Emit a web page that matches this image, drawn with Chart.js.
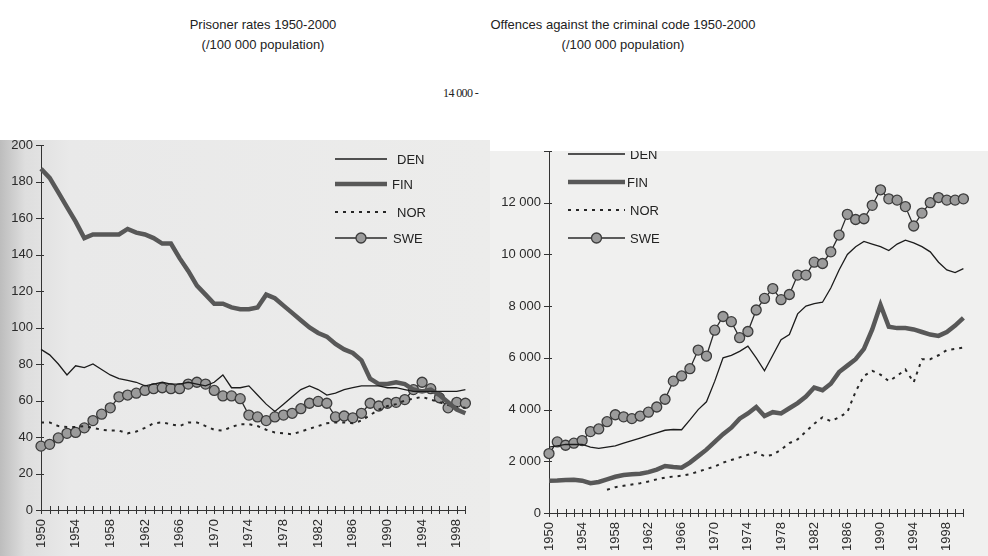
<!DOCTYPE html>
<html>
<head>
<meta charset="utf-8">
<script src="https://cdn.jsdelivr.net/npm/chart.js@4.4.1/dist/chart.umd.min.js"></script>
<style>
body{margin:0;width:988px;height:556px;overflow:hidden;background:#fff;position:relative;font-family:"Liberation Sans",Arial,sans-serif}
.title{position:absolute;text-align:center;font-size:13px;line-height:20px;color:#222}
#scanL{position:absolute;left:0;top:140px;width:490px;height:416px;overflow:hidden;background:linear-gradient(to right,#bdbdbd 0px,#dedede 25px,#e9e9e9 70px,#ececeb 100%)}
#scanR{position:absolute;left:490px;top:151px;width:498px;height:405px;overflow:hidden;background:#f0f0ef}
#stray{position:absolute;left:443px;top:86px;font-family:"Liberation Serif",serif;font-size:12px;letter-spacing:-0.6px;color:#222}
canvas{position:absolute;left:0}
</style>
</head>
<body>
<div class="title" style="left:163px;top:15px;width:200px">Prisoner rates 1950-2000<br>(/100 000 population)</div>
<div class="title" style="left:473px;top:15px;width:300px">Offences against the criminal code 1950-2000<br>(/100 000 population)</div>
<div id="stray">14 000 -</div>
<div id="scanL"><canvas id="c1" width="490" height="446" style="top:-30px"></canvas></div>
<div id="scanR"><canvas id="c2" width="498" height="446" style="top:-41px"></canvas></div>
<script>
// years on the x axis
const yearsL = [1950,1951,1952,1953,1954,1955,1956,1957,1958,1959,1960,1961,1962,1963,1964,1965,1966,1967,1968,1969,
  1970,1971,1972,1973,1974,1975,1976,1977,1978,1979,1980,1981,1982,1983,1984,1985,1986,1987,1988,1989,
  1990,1991,1992,1993,1994,1995,1996,1997,1998,1999];
const yearsR = yearsL.concat([2000]);

// prisoner rates per 100 000
const prisDEN = [88,85,80,74,79,78,80,77,74,72,71,70,68,69,70,69,69,70,69,68,
  70,74,67,67,68,63,58,54,58,62,66,68,66,63,64,66,67,68,68,68,
  67,67,66,65,65,65,65,65,65,66];
const prisFIN = [187,182,174,166,158,149,151,151,151,151,154,152,151,149,146,146,138,131,123,118,
  113,113,111,110,110,111,118,116,112,108,104,100,97,95,91,88,86,82,72,69,
  69,70,69,66,65,66,63,59,55,53];
const prisNOR = [48,48,46,45.5,45.5,46,45,44,43.5,43.5,42,43,45,47.5,48,47,46,48,48,46,
  44,43.5,45.5,47,47,46,44,42.5,42,41.5,43,44.5,46,47.5,48,48,47.5,49,52,55,
  57,58,60,61,62,60.5,59,57.5,56.5,56];
const prisSWE = [35,36,39.5,42,42.5,45,49,52.5,56,62,63,64,65.5,66.5,67,66.5,66.5,69,70,69,
  65.5,62.5,62.5,61,52,51,49,51,52,53,55.5,58.5,59.5,58.5,51,51.5,50.5,53,58.5,57,
  58.5,59,60.5,66,70,66.5,61.5,56,59,58.5];

// offences per 100 000
const offDEN = [2550,2600,2650,2650,2650,2550,2500,2550,2600,2700,2800,2900,3000,3100,3200,3230,3220,3600,4000,4300,
  5100,6000,6100,6250,6450,6000,5500,6100,6700,6900,7700,8000,8100,8150,8700,9400,10000,10300,10500,10400,
  10300,10150,10400,10550,10450,10300,10100,9700,9400,9300,9450];
const offFIN = [1250,1260,1280,1290,1250,1150,1200,1300,1400,1470,1500,1520,1580,1680,1820,1780,1750,1950,2200,2450,
  2750,3050,3300,3650,3850,4100,3750,3900,3850,4050,4250,4500,4850,4750,5000,5450,5700,5950,6350,7100,
  8050,7200,7150,7150,7100,7000,6900,6850,7000,7250,7550];
const offNOR = [null,null,null,null,null,null,null,900,1000,1050,1100,1150,1220,1300,1370,1410,1440,1500,1600,1700,
  1800,1950,2050,2150,2250,2350,2200,2250,2450,2700,2850,3150,3450,3700,3550,3700,3900,4700,5300,5500,
  5350,5100,5300,5550,5050,5950,5950,6100,6300,6350,6400];
const offSWE = [2300,2750,2620,2700,2800,3150,3250,3530,3800,3720,3650,3750,3900,4100,4400,5100,5300,5580,6300,6070,
  7070,7600,7400,6780,7020,7850,8300,8680,8250,8450,9200,9200,9700,9650,10100,10750,11550,11350,11380,11900,
  12500,12150,12100,11850,11100,11600,12000,12200,12100,12100,12150];

const seriesNames = ['DEN','FIN','NOR','SWE'];

function makeSets(vals){
  return [
    {label:seriesNames[0], data:vals[0], borderColor:'#1c1c1c', borderWidth:1.3, pointRadius:0},
    {label:seriesNames[1], data:vals[1], borderColor:'#585858', borderWidth:4.5, pointRadius:0},
    {label:seriesNames[2], data:vals[2], borderColor:'#262626', borderWidth:2, borderDash:[3,5], pointRadius:0},
    {label:seriesNames[3], data:vals[3], borderColor:'#2a2a2a', borderWidth:1.3, pointRadius:5,
      pointBackgroundColor:'#9b9b9b', pointBorderColor:'#3c3c3c', pointBorderWidth:1.3}
  ];
}

// legend drawn inside the plot, like the scanned original
const inLegend = {
  id:'inLegend',
  afterDraw(chart, args, o){
    const ctx = chart.ctx;
    ctx.save();
    chart.data.datasets.forEach((ds, i) => {
      const y = o.ys[i];
      ctx.strokeStyle = ds.borderColor;
      ctx.lineWidth = ds.borderWidth;
      ctx.setLineDash(ds.borderDash || []);
      ctx.beginPath(); ctx.moveTo(o.x0, y); ctx.lineTo(o.x1, y); ctx.stroke();
      ctx.setLineDash([]);
      if(ds.pointRadius){
        ctx.beginPath();
        ctx.arc((o.x0+o.x1)/2, y, ds.pointRadius, 0, Math.PI*2);
        ctx.fillStyle = ds.pointBackgroundColor; ctx.fill();
        ctx.lineWidth = ds.pointBorderWidth; ctx.strokeStyle = ds.pointBorderColor; ctx.stroke();
      }
      ctx.fillStyle = '#222';
      ctx.font = '13px "Liberation Sans", Arial, sans-serif';
      ctx.textBaseline = 'middle';
      ctx.fillText(ds.label, o.tx[i], y+1);
    });
    ctx.restore();
  }
};

// small crossing tick marks on both axes
const crossTicks = {
  id:'crossTicks',
  afterDraw(chart){
    const ctx = chart.ctx, xs = chart.scales.x, ys = chart.scales.y;
    ctx.save();
    ctx.strokeStyle = '#333'; ctx.lineWidth = 1;
    ctx.beginPath();
    xs.ticks.forEach((t, i) => {
      const px = Math.round(xs.getPixelForTick(i)) + 0.5;
      ctx.moveTo(px, xs.top - 4); ctx.lineTo(px, xs.top + 4);
    });
    ys.ticks.forEach((t, i) => {
      if(t.value % ys.options.ticks.stepSize) return;
      const py = Math.round(ys.getPixelForTick(i)) + 0.5;
      ctx.moveTo(ys.right - 5, py); ctx.lineTo(ys.right + 3, py);
    });
    ctx.stroke();
    ctx.restore();
  }
};

function baseOptions(o){
  return {
    responsive:false, animation:false,
    layout:{padding:{top:o.top, right:o.right, left:0, bottom:0}},
    elements:{line:{tension:0, fill:false}},
    plugins:{legend:{display:false}, tooltip:{enabled:false}, inLegend:o.legend},
    scales:{
      x:{
        grid:{display:false, drawTicks:false},
        border:{display:true, color:'#333', width:1},
        afterFit(s){ s.height = o.xh; },
        ticks:{autoSkip:false, minRotation:90, maxRotation:90, padding:9, color:'#2a2a2a',
          font:{family:'"Liberation Sans", Arial, sans-serif', size:13},
          callback(v, i){ const yr = this.getLabelForValue(v); return (yr - 1950) % 4 === 0 && yr < 2000 ? String(yr) : ''; }}
      },
      y:{
        min:0, max:o.max,
        grid:{display:false, drawTicks:false},
        border:{display:true, color:'#333', width:1},
        afterFit(s){ s.width = o.yw; },
        ticks:{stepSize:o.step, padding:8, color:'#2a2a2a',
          font:{family:'"Liberation Sans", Arial, sans-serif', size:13},
          callback:o.fmt}
      }
    }
  };
}

new Chart(document.getElementById('c1'), {
  type:'line',
  data:{labels:yearsL, datasets:makeSets([prisDEN, prisFIN, prisNOR, prisSWE])},
  options:baseOptions({top:35, right:16, xh:46, yw:41, max:200, step:20,
    fmt:(v) => String(v),
    legend:{x0:335, x1:387, tx:[397,392,397,393], ys:[49,74,102,128]}}),
  plugins:[inLegend, crossTicks]
});

new Chart(document.getElementById('c2'), {
  type:'line',
  data:{labels:yearsR, datasets:makeSets([offDEN, offFIN, offNOR, offSWE])},
  options:baseOptions({top:41, right:2, xh:43, yw:59, max:14000, step:2000,
    fmt:(v) => v >= 14000 ? '' : (v === 0 ? '0' : (v/1000) + ' 000'),
    legend:{x0:78, x1:135, tx:[140,137,140,140], ys:[44,72,100,128]}}),
  plugins:[inLegend, crossTicks]
});
</script>
</body>
</html>
